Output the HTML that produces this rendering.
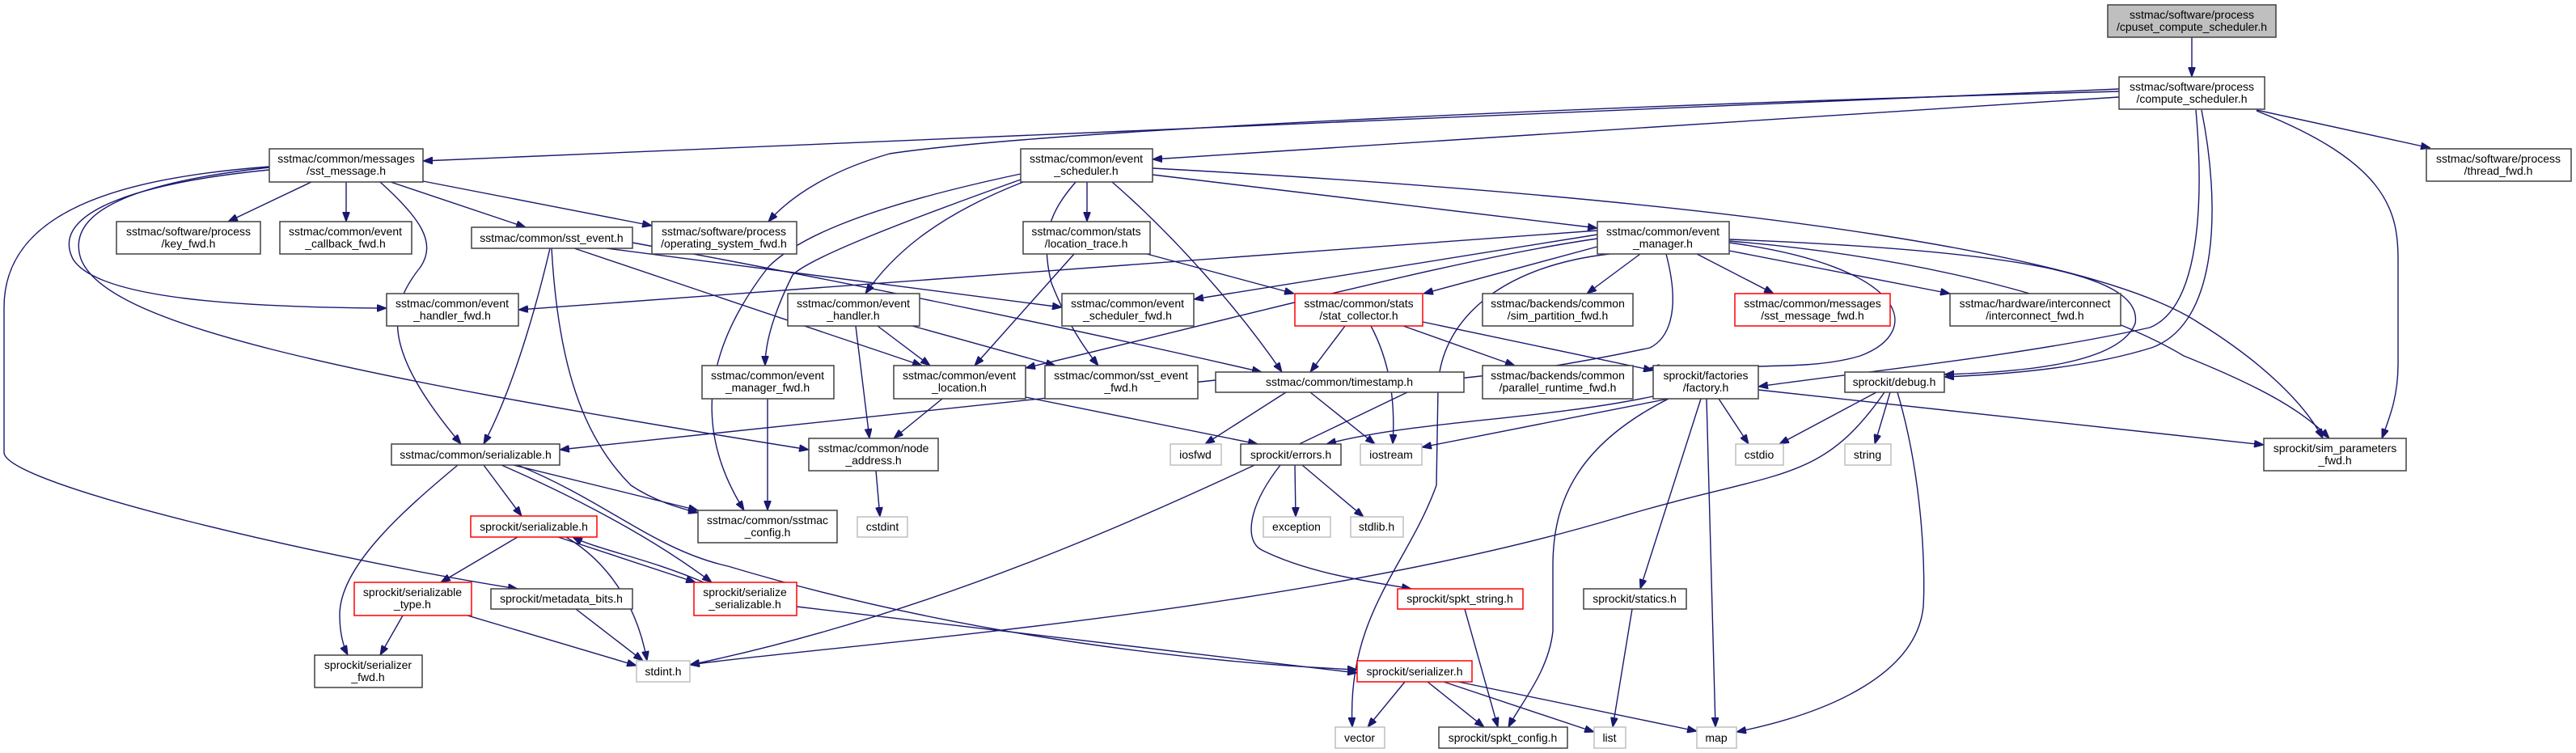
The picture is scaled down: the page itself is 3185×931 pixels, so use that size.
<!DOCTYPE html>
<html><head><meta charset="utf-8"><style>
html,body{margin:0;padding:0;background:#fff;}
svg{display:block;}
text{font-family:"Liberation Sans",sans-serif;font-size:14px;fill:#000;text-anchor:middle;}
.e{fill:none;stroke:#191970;stroke-width:1.4;marker-end:url(#a);}
.b{fill:#fff;stroke:#404040;stroke-width:1.5;}
.r{fill:#fff;stroke:#ff0000;stroke-width:1.5;}
.g{fill:#fff;stroke:#bfbfbf;stroke-width:1.5;}
</style></head><body>
<svg width="3185" height="931" viewBox="0 0 3185 931" xmlns="http://www.w3.org/2000/svg">
<defs><marker id="a" markerUnits="userSpaceOnUse" markerWidth="12" markerHeight="9" refX="12" refY="4.5" orient="auto"><path d="M0,0 L12,4.5 L0,9 z" fill="#191970" stroke="#191970"/></marker></defs>
<g>
<path class="e" d="M2710 46 L2710 95"/>
<path class="e" d="M2620 110 L523 199"/>
<path class="e" d="M2620 113 C2000 130 1300 160 1100 190 C1030 210 980 240 950 274"/>
<path class="e" d="M2620 120 L1425 197"/>
<path class="e" d="M2790 136 L3005 183"/>
<path class="e" d="M2790 137 C2950 200 2965 260 2965 320 L2965 450 C2965 490 2955 515 2945 542"/>
<path class="e" d="M2715 136 C2725 250 2720 380 2658 405 C2500 440 2300 460 2174 478"/>
<path class="e" d="M2722 136 C2745 250 2745 400 2660 430 C2580 455 2480 463 2404 466"/>
<path class="e" d="M1344 225 L1344 274"/>
<path class="e" d="M1425 216 L1975 282"/>
<path class="e" d="M1425 208 C2200 250 2600 320 2720 400 C2800 450 2850 500 2872 542"/>
<path class="e" d="M2138 298 C2400 320 2600 380 2700 440 C2800 480 2850 510 2880 542"/>
<path class="e" d="M1265 225 C1150 270 1100 320 1070 363"/>
<path class="e" d="M1262 222 C1100 280 1000 320 980 340 C960 380 946 420 946 452"/>
<path class="e" d="M1262 215 C1050 260 980 300 950 330 C880 420 850 520 920 631"/>
<path class="e" d="M1330 225 C1300 260 1285 290 1300 350 C1320 400 1340 430 1358 452"/>
<path class="e" d="M1375 225 C1450 290 1530 380 1585 460"/>
<path class="e" d="M385 225 L282 274"/>
<path class="e" d="M428 225 L428 274"/>
<path class="e" d="M483 225 L650 281"/>
<path class="e" d="M523 224 L806 279"/>
<path class="e" d="M333 210 C180 225 60 260 90 320 C120 370 300 380 478 381"/>
<path class="e" d="M470 225 C520 270 540 300 520 330 C480 380 470 430 570 549"/>
<path class="e" d="M333 207 C170 225 80 260 100 320 C130 400 400 460 1000 556"/>
<path class="e" d="M333 206 C150 220 5 260 5 380 L5 560 C10 600 400 690 640 728"/>
<path class="e" d="M680 307 C670 350 640 470 598 549"/>
<path class="e" d="M682 307 C690 450 720 540 780 600 C810 620 840 628 863 634"/>
<path class="e" d="M710 307 L1140 452"/>
<path class="e" d="M750 307 L1313 380"/>
<path class="e" d="M782 300 C1000 340 1300 400 1560 460"/>
<path class="e" d="M1058 403 L1075 542"/>
<path class="e" d="M1085 403 L1150 452"/>
<path class="e" d="M1128 403 L1305 452"/>
<path class="e" d="M1328 314 L1205 452"/>
<path class="e" d="M1418 314 L1600 363"/>
<path class="e" d="M1975 285 L641 383"/>
<path class="e" d="M1975 290 L1476 370"/>
<path class="e" d="M1975 295 C1800 320 1500 400 1268 455"/>
<path class="e" d="M1975 305 L1760 363"/>
<path class="e" d="M2028 314 L1962 363"/>
<path class="e" d="M2098 314 L2193 363"/>
<path class="e" d="M2138 310 L2411 363"/>
<path class="e" d="M2060 314 C2080 390 2060 420 2040 430 C1900 460 1800 470 1712 475"/>
<path class="e" d="M1990 314 C1850 330 1780 400 1778 480 L1776 600 C1740 700 1665 760 1672 899"/>
<path class="e" d="M2138 300 C2360 330 2380 410 2300 440 C2250 455 2200 452 2040 455"/>
<path class="e" d="M2138 296 C2500 310 2650 340 2640 400 C2620 450 2500 460 2404 463"/>
<path class="e" d="M1663 403 L1620 460"/>
<path class="e" d="M1695 403 C1720 450 1725 500 1722 549"/>
<path class="e" d="M1735 403 L1873 452"/>
<path class="e" d="M1759 398 L2044 458"/>
<path class="e" d="M1503 470 L692 556"/>
<path class="e" d="M1590 485 L1490 549"/>
<path class="e" d="M1620 485 L1700 549"/>
<path class="e" d="M1740 485 C1500 600 1200 750 853 822"/>
<path class="e" d="M1165 493 L1105 542"/>
<path class="e" d="M1268 491 L1555 549"/>
<path class="e" d="M1083 582 L1088 639"/>
<path class="e" d="M949 493 L949 631"/>
<path class="e" d="M598 575 L645 638"/>
<path class="e" d="M566 575 C500 630 420 700 420 760 C420 785 425 800 430 810"/>
<path class="e" d="M620 575 C700 610 800 660 880 720"/>
<path class="e" d="M640 575 C750 620 810 680 900 700 C1200 790 1500 820 1678 828"/>
<path class="e" d="M635 575 L863 631"/>
<path class="e" d="M640 664 L545 720"/>
<path class="e" d="M690 664 L860 720"/>
<path class="e" d="M870 720 C800 690 740 680 708 664"/>
<path class="e" d="M700 664 C760 700 790 760 800 817"/>
<path class="e" d="M498 761 L470 810"/>
<path class="e" d="M578 761 L787 823"/>
<path class="e" d="M712 753 L795 817"/>
<path class="e" d="M985 750 L1678 832"/>
<path class="e" d="M1601 575 L1602 639"/>
<path class="e" d="M1610 575 L1686 639"/>
<path class="e" d="M1583 575 C1540 630 1540 670 1560 680 C1620 710 1700 720 1745 728"/>
<path class="e" d="M2044 490 C1900 520 1750 520 1640 549"/>
<path class="e" d="M2063 493 L1758 553"/>
<path class="e" d="M2125 493 L2162 549"/>
<path class="e" d="M2063 493 C1950 550 1920 620 1920 700 L1920 780 C1915 830 1880 870 1865 899"/>
<path class="e" d="M2103 493 L2028 728"/>
<path class="e" d="M2110 493 L2121 899"/>
<path class="e" d="M2174 482 L2799 550"/>
<path class="e" d="M2320 485 L2200 549"/>
<path class="e" d="M2337 485 L2318 549"/>
<path class="e" d="M2346 485 C2380 600 2380 720 2378 750 C2370 830 2270 880 2147 905"/>
<path class="e" d="M2330 485 C2250 600 2200 580 2000 640 C1600 760 1000 800 853 822"/>
<path class="e" d="M1811 753 L1852 899"/>
<path class="e" d="M2018 753 L1994 899"/>
<path class="e" d="M1737 843 L1691 899"/>
<path class="e" d="M1765 843 L1835 899"/>
<path class="e" d="M1785 843 L1971 905"/>
<path class="e" d="M1803 843 L2098 904"/>
</g>
<g>
<rect x="2606" y="6" width="208" height="40" fill="#bfbfbf" stroke="#404040" stroke-width="1.5"/><text x="2710" y="23">sstmac/software/process</text><text x="2710" y="38">/cpuset_compute_scheduler.h</text>
<rect class="b" x="2620" y="95" width="180" height="40"/><text x="2710" y="112">sstmac/software/process</text><text x="2710" y="127">/compute_scheduler.h</text>
<rect class="b" x="3000" y="184" width="179" height="40"/><text x="3089" y="201">sstmac/software/process</text><text x="3089" y="216">/thread_fwd.h</text>
<rect class="b" x="333" y="184" width="190" height="41"/><text x="428" y="201">sstmac/common/messages</text><text x="428" y="216">/sst_message.h</text>
<rect class="b" x="1262" y="184" width="163" height="41"/><text x="1343" y="201">sstmac/common/event</text><text x="1343" y="216">_scheduler.h</text>
<rect class="b" x="144" y="274" width="178" height="40"/><text x="233" y="291">sstmac/software/process</text><text x="233" y="306">/key_fwd.h</text>
<rect class="b" x="346" y="274" width="163" height="40"/><text x="427" y="291">sstmac/common/event</text><text x="427" y="306">_callback_fwd.h</text>
<rect class="b" x="806" y="274" width="179" height="40"/><text x="895" y="291">sstmac/software/process</text><text x="895" y="306">/operating_system_fwd.h</text>
<rect class="b" x="583" y="281" width="199" height="26"/><text x="682" y="299">sstmac/common/sst_event.h</text>
<rect class="b" x="1265" y="274" width="157" height="40"/><text x="1343" y="291">sstmac/common/stats</text><text x="1343" y="306">/location_trace.h</text>
<rect class="b" x="1975" y="274" width="163" height="40"/><text x="2056" y="291">sstmac/common/event</text><text x="2056" y="306">_manager.h</text>
<rect class="b" x="478" y="363" width="163" height="40"/><text x="559" y="380">sstmac/common/event</text><text x="559" y="395">_handler_fwd.h</text>
<rect class="b" x="974" y="363" width="163" height="40"/><text x="1055" y="380">sstmac/common/event</text><text x="1055" y="395">_handler.h</text>
<rect class="b" x="1313" y="363" width="163" height="40"/><text x="1394" y="380">sstmac/common/event</text><text x="1394" y="395">_scheduler_fwd.h</text>
<rect class="r" x="1601" y="363" width="158" height="40"/><text x="1680" y="380">sstmac/common/stats</text><text x="1680" y="395">/stat_collector.h</text>
<rect class="b" x="1833" y="363" width="186" height="40"/><text x="1926" y="380">sstmac/backends/common</text><text x="1926" y="395">/sim_partition_fwd.h</text>
<rect class="r" x="2145" y="363" width="192" height="40"/><text x="2241" y="380">sstmac/common/messages</text><text x="2241" y="395">/sst_message_fwd.h</text>
<rect class="b" x="2411" y="363" width="211" height="40"/><text x="2516" y="380">sstmac/hardware/interconnect</text><text x="2516" y="395">/interconnect_fwd.h</text>
<rect class="b" x="868" y="452" width="163" height="41"/><text x="949" y="469">sstmac/common/event</text><text x="949" y="484">_manager_fwd.h</text>
<rect class="b" x="1105" y="452" width="163" height="41"/><text x="1186" y="469">sstmac/common/event</text><text x="1186" y="484">_location.h</text>
<rect class="b" x="1292" y="452" width="189" height="41"/><text x="1386" y="469">sstmac/common/sst_event</text><text x="1386" y="484">_fwd.h</text>
<rect class="b" x="1503" y="460" width="307" height="25"/><text x="1656" y="477">sstmac/common/timestamp.h</text>
<rect class="b" x="1833" y="452" width="186" height="41"/><text x="1926" y="469">sstmac/backends/common</text><text x="1926" y="484">/parallel_runtime_fwd.h</text>
<rect class="b" x="2044" y="452" width="130" height="41"/><text x="2109" y="469">sprockit/factories</text><text x="2109" y="484">/factory.h</text>
<rect class="b" x="2281" y="460" width="123" height="25"/><text x="2342" y="477">sprockit/debug.h</text>
<rect class="b" x="2799" y="542" width="176" height="40"/><text x="2887" y="559">sprockit/sim_parameters</text><text x="2887" y="574">_fwd.h</text>
<rect class="b" x="484" y="549" width="208" height="26"/><text x="588" y="567">sstmac/common/serializable.h</text>
<rect class="b" x="1000" y="542" width="160" height="40"/><text x="1080" y="559">sstmac/common/node</text><text x="1080" y="574">_address.h</text>
<rect class="g" x="1447" y="549" width="63" height="26"/><text x="1478" y="567">iosfwd</text>
<rect class="b" x="1534" y="549" width="124" height="26"/><text x="1596" y="567">sprockit/errors.h</text>
<rect class="g" x="1682" y="549" width="76" height="26"/><text x="1720" y="567">iostream</text>
<rect class="g" x="2146" y="549" width="59" height="26"/><text x="2175" y="567">cstdio</text>
<rect class="g" x="2281" y="549" width="57" height="26"/><text x="2309" y="567">string</text>
<rect class="r" x="582" y="638" width="156" height="26"/><text x="660" y="656">sprockit/serializable.h</text>
<rect class="g" x="1060" y="639" width="62" height="25"/><text x="1091" y="656">cstdint</text>
<rect class="b" x="863" y="631" width="172" height="40"/><text x="949" y="648">sstmac/common/sstmac</text><text x="949" y="663">_config.h</text>
<rect class="g" x="1562" y="639" width="83" height="25"/><text x="1603" y="656">exception</text>
<rect class="g" x="1670" y="639" width="65" height="25"/><text x="1702" y="656">stdlib.h</text>
<rect class="r" x="438" y="720" width="145" height="41"/><text x="510" y="737">sprockit/serializable</text><text x="510" y="752">_type.h</text>
<rect class="b" x="607" y="728" width="175" height="25"/><text x="694" y="745">sprockit/metadata_bits.h</text>
<rect class="r" x="858" y="720" width="127" height="41"/><text x="921" y="737">sprockit/serialize</text><text x="921" y="752">_serializable.h</text>
<rect class="r" x="1728" y="728" width="155" height="25"/><text x="1805" y="745">sprockit/spkt_string.h</text>
<rect class="b" x="1958" y="728" width="127" height="25"/><text x="2021" y="745">sprockit/statics.h</text>
<rect class="b" x="389" y="810" width="133" height="40"/><text x="455" y="827">sprockit/serializer</text><text x="455" y="842">_fwd.h</text>
<rect class="g" x="787" y="817" width="66" height="26"/><text x="820" y="835">stdint.h</text>
<rect class="r" x="1678" y="817" width="142" height="26"/><text x="1749" y="835">sprockit/serializer.h</text>
<rect class="g" x="1651" y="899" width="61" height="26"/><text x="1681" y="917">vector</text>
<rect class="b" x="1779" y="899" width="159" height="26"/><text x="1858" y="917">sprockit/spkt_config.h</text>
<rect class="g" x="1971" y="899" width="39" height="26"/><text x="1990" y="917">list</text>
<rect class="g" x="2098" y="899" width="49" height="26"/><text x="2122" y="917">map</text>
</g>
</svg>
</body></html>
